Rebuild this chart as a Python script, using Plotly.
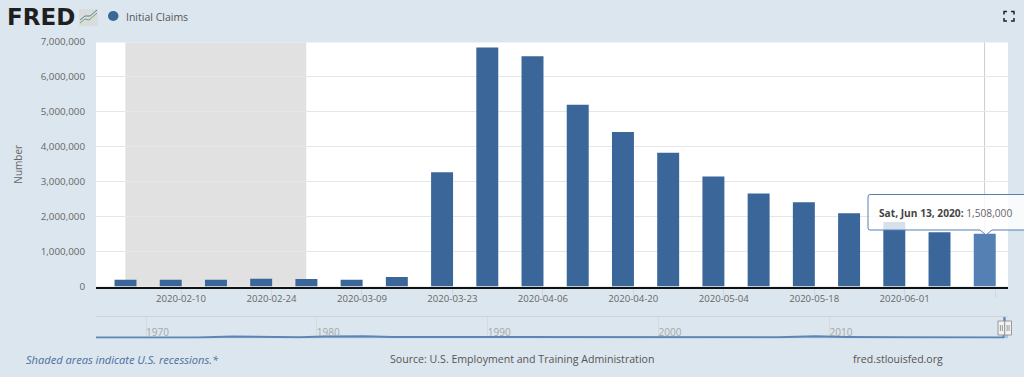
import plotly.graph_objects as go

W, H = 1024, 377
BG = "#dce6ee"
BAR = "#3b6699"
FONT = "Open Sans"

# ---- data ----
week_dates = ["2020-02-01", "2020-02-08", "2020-02-15", "2020-02-22", "2020-02-29",
              "2020-03-07", "2020-03-14", "2020-03-21", "2020-03-28", "2020-04-04",
              "2020-04-11", "2020-04-18", "2020-04-25", "2020-05-02", "2020-05-09",
              "2020-05-16", "2020-05-23", "2020-05-30", "2020-06-06", "2020-06-13"]
claims = [190000, 192000, 195000, 222000, 218000, 190000, 270000, 3270000, 6840000, 6590000,
          5200000, 4420000, 3830000, 3150000, 2660000, 2410000, 2100000, 1850000, 1550000, 1508000]
tick_dates = ["2020-02-10", "2020-02-24", "2020-03-09", "2020-03-23", "2020-04-06", "2020-04-20",
              "2020-05-04", "2020-05-18", "2020-06-01", "2020-06-15"]
tick_labels = ["2020-02-10", "2020-02-24", "2020-03-09", "2020-03-23", "2020-04-06", "2020-04-20",
               "2020-05-04", "2020-05-18", "2020-06-01", ""]
y_ticks = [0, 1000000, 2000000, 3000000, 4000000, 5000000, 6000000, 7000000]
recession = ["2020-02-01 09:00", "2020-02-29 09:00"]
hover_date = "2020-06-13 09:00"

nav_dates = ["1967-01-28", "1970-01-01", "1971-06-01", "1973-01-01", "1975-02-01", "1977-01-01",
             "1979-01-01", "1980-06-01", "1982-10-01", "1984-06-01", "1987-01-01", "1989-01-01",
             "1991-03-01", "1993-01-01", "1996-01-01", "2000-01-01", "2001-10-01", "2004-01-01",
             "2007-01-01", "2009-03-01", "2011-01-01", "2014-01-01", "2017-01-01", "2020-03-07",
             "2020-03-28", "2020-04-25", "2020-06-13"]
nav_values = [210000, 230000, 290000, 230000, 520000, 370000, 340000, 560000, 640000, 370000,
              360000, 330000, 480000, 350000, 360000, 280000, 480000, 350000, 310000, 650000,
              420000, 320000, 240000, 190000, 6840000, 3830000, 1508000]
nav_ticks = ["1970-01-01", "1980-01-01", "1990-01-01", "2000-01-01", "2010-01-01"]
nav_labels = ["1970", "1980", "1990", "2000", "2010"]

DAY = 86400000
bar_width = 3.4 * DAY
bar_offset = -bar_width / 2 + 0.4 * DAY


def X(px):
    return px / W


def Y(px):
    return 1 - px / H


fig = go.Figure()
fig.add_trace(go.Bar(x=week_dates, y=claims, width=bar_width, offset=bar_offset,
                     marker=dict(color=[BAR] * 19 + ["#5580b4"], line=dict(width=0)),
                     showlegend=False, hoverinfo="skip", xaxis="x", yaxis="y"))
fig.add_trace(go.Scatter(x=nav_dates, y=nav_values, mode="lines", fill="tozeroy",
                         line=dict(color="#5d86b8", width=2), fillcolor="rgba(69,114,167,0.3)",
                         showlegend=False, hoverinfo="skip", xaxis="x2", yaxis="y2"))

shapes = [
    dict(type="rect", xref="paper", yref="paper", x0=X(96), x1=X(1008), y0=Y(286.5), y1=Y(42.5),
         fillcolor="#ffffff", line_width=0, layer="below"),
    dict(type="rect", xref="x", yref="paper", x0=recession[0], x1=recession[1],
         y0=Y(286.5), y1=Y(42.5), fillcolor="#e1e1e1", line_width=0, layer="below"),
    dict(type="line", xref="x", yref="paper", x0=hover_date, x1=hover_date,
         y0=Y(286), y1=Y(42.5), line=dict(color="#cccccc", width=1), layer="below"),
    # navigator outline
    dict(type="line", xref="paper", yref="paper", x0=X(96), x1=X(1008), y0=Y(316.5), y1=Y(316.5),
         line=dict(color="#cfd3d6", width=1)),
    # tooltip
    dict(type="path", xref="paper", yref="paper", layer="above",
         path=(f"M {X(870)} {Y(194.5)} L {X(1030)} {Y(194.5)} L {X(1030)} {Y(230)} "
               f"L {X(992)} {Y(230)} L {X(986)} {Y(235)} L {X(980)} {Y(230)} L {X(870)} {Y(230)} "
               f"Q {X(868)} {Y(230)} {X(868)} {Y(228)} L {X(868)} {Y(197)} "
               f"Q {X(868)} {Y(194.5)} {X(870)} {Y(194.5)} Z"),
         fillcolor="rgba(255,255,255,0.8)", line=dict(color="#5580b4", width=1)),
    # legend marker
    dict(type="circle", xref="paper", yref="paper", x0=X(108), x1=X(118.5), y0=Y(21), y1=Y(11),
         fillcolor=BAR, line_width=0),
    # logo chart icon
    dict(type="rect", xref="paper", yref="paper", x0=X(79), x1=X(98), y0=Y(26), y1=Y(9),
         fillcolor="#d9dcdc", line_width=0),
    dict(type="path", xref="paper", yref="paper",
         path=f"M {X(80)} {Y(23)} L {X(85)} {Y(19)} L {X(89)} {Y(20)} L {X(97)} {Y(13)}",
         line=dict(color="#7aa35a", width=1)),
    dict(type="path", xref="paper", yref="paper",
         path=f"M {X(80)} {Y(20)} L {X(85)} {Y(16)} L {X(90)} {Y(16)} L {X(97)} {Y(10)}",
         line=dict(color="#5f7fa8", width=1)),
]

# full-screen icon corners
for x, y, dx, dy in [(1004, 11.5, 3, 3), (1014, 11.5, -3, 3), (1004, 21, 3, -3), (1014, 21, -3, -3)]:
    shapes.append(dict(type="path", xref="paper", yref="paper",
                       path=f"M {X(x + dx)} {Y(y)} L {X(x)} {Y(y)} L {X(x)} {Y(y + dy)}",
                       line=dict(color="#222222", width=1.5)))

# navigator handles
for x0, x1 in [(998, 1004.7), (1004.7, 1011.5)]:
    shapes.append(dict(type="rect", xref="paper", yref="paper", x0=X(x0), x1=X(x1), y0=Y(335), y1=Y(321),
                       fillcolor="#f2f2f2", line=dict(color="#999999", width=1), layer="above"))
    for gx in (x0 + 2.4, x0 + 4.4):
        shapes.append(dict(type="line", xref="paper", yref="paper", x0=X(gx), x1=X(gx), y0=Y(331), y1=Y(325),
                           line=dict(color="#999999", width=1), layer="above"))


def note(text, px, py, size=11, color="#666666", xanchor="left"):
    return dict(text=text, xref="paper", yref="paper", x=X(px), y=Y(py), showarrow=False,
                xanchor=xanchor, yanchor="middle", font=dict(family=FONT, size=size, color=color),
                align="left")


annotations = [
    dict(text="<b>FRED</b>", xref="paper", yref="paper", x=X(5), y=Y(17), showarrow=False,
         xanchor="left", yanchor="middle", font=dict(family="DejaVu Sans", size=23, color="#1f1f1f")),
    note("Initial Claims", 123.5, 17, color="#555555", size=10.5),
    note("<b>Sat, Jun 13, 2020:</b> <span style='color:#666666'>1,508,000</span>", 876.5, 212.5,
         color="#444444", size=10.2),
    note("<i>Shaded areas indicate U.S. recessions.*</i>", 23.5, 359, color="#4a6f9e", size=11.1),
    note("Source: U.S. Employment and Training Administration", 521.5, 359, size=10.6,
         xanchor="center", color="#555555"),
    note("fred.stlouisfed.org", 898, 359, size=10.5, xanchor="center", color="#555555"),
]

fig.update_layout(
    width=W, height=H, paper_bgcolor=BG, plot_bgcolor="rgba(0,0,0,0)",
    margin=dict(l=0, r=0, t=0, b=0, autoexpand=False),
    font=dict(family=FONT, size=10, color="#666666"),
    shapes=shapes, annotations=annotations,
    xaxis=dict(domain=[X(96), X(1008)], type="date",
               range=["2020-01-27 20:00", "2020-06-17 00:00"],
               tickmode="array", tickvals=tick_dates, ticktext=tick_labels,
               ticks="outside", ticklen=9, tickcolor="#ccd6eb", tickwidth=1,
               ticklabelstandoff=-7,
               showline=True, linecolor="#111111", linewidth=2, showgrid=False, zeroline=False,
               tickfont=dict(size=9.6, color="#666666"), anchor="y"),
    yaxis=dict(domain=[Y(286.5), Y(42)], range=[0, 7000000],
               tickmode="array", tickvals=y_ticks, tickformat=",d",
               showgrid=True, gridcolor="#e6e6e6", gridwidth=1, zeroline=False,
               ticks="", ticklabelstandoff=10, tickfont=dict(size=9.8, color="#666666"), anchor="x",
               title=dict(text="Number", standoff=16, font=dict(size=10, color="#666666"))),
    xaxis2=dict(domain=[X(96), X(1008)], type="date", range=["1967-01-28", "2020-06-13"],
                tickmode="array", tickvals=nav_ticks, ticktext=nav_labels,
                ticklabelposition="inside right", ticklabelstandoff=-5,
                tickfont=dict(size=10, color="#a5a8aa"),
                showgrid=True, gridcolor="#d3dbe2", showline=False, zeroline=False,
                ticks="", anchor="y2"),
    yaxis2=dict(domain=[Y(338.5), Y(316.5)], range=[-100000, 7000000], visible=False,
                showgrid=False, anchor="x2"),
)

fig.write_html("out.html", config=dict(displayModeBar=False),
               post_script="document.body.style.margin='0';document.body.style.background='#dce6ee';")
